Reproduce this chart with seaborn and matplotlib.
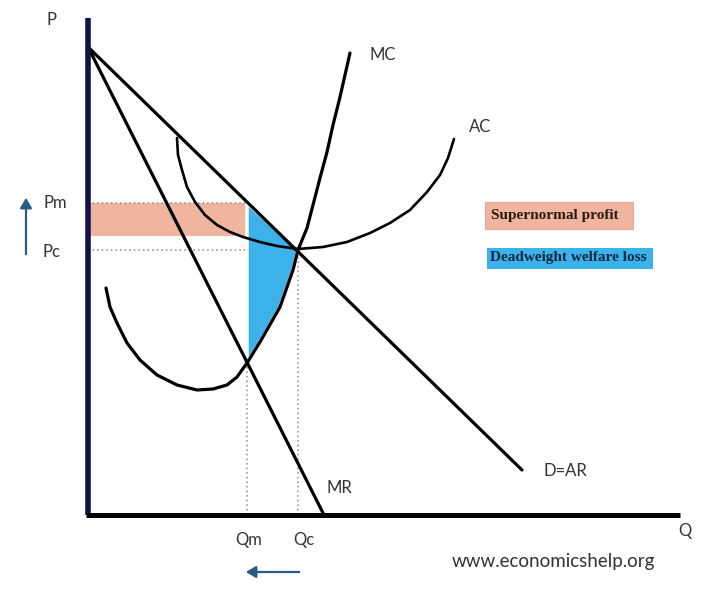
import numpy as np
import pandas as pd
import seaborn as sns
import matplotlib
matplotlib.use("Agg")
import matplotlib.pyplot as plt
from matplotlib.patches import Rectangle, Polygon, FancyArrowPatch

# ---- data (Q, P units) ----
d_q = [0, 434]
d_p = [468, 45]
mr_q = [0, 235]
mr_p = [468, 2]
mc_q = [18, 22, 29, 39, 52, 69, 89, 109, 125, 139, 149, 159, 172, 192, 205, 210, 219, 225, 232, 239, 245, 252, 262]
mc_p = [227, 208, 192, 172, 155, 140, 130, 125, 126, 130, 138, 152, 173, 208, 245, 265, 287, 310, 337, 363, 390, 418, 462]
ac_q = [89, 90, 94, 99, 107, 117, 129, 142, 155, 172, 189, 210, 235, 259, 282, 302, 322, 339, 352, 360, 366]
ac_p = [377, 360, 345, 328, 313, 300, 290, 283, 278, 273, 269, 266, 268, 273, 282, 292, 305, 323, 340, 357, 376]
qm, qc = 159, 210
pm, pc = 312, 265
ac_at_qm = 279
dwl_q = [159, 210, 205, 192, 172, 159]
dwl_p = [312, 265, 245, 208, 173, 152]
q_axis_max, p_axis_max = 592, 497

curve_labels = ["MC", "AC", "MR", "D=AR"]
curve_label_pos = [(295, 460), (392, 388), (251, 27), (477, 44)]
legend_texts = ["Supernormal profit", "Deadweight welfare loss"]
source_text = "www.economicshelp.org"

salmon = "#efb59f"
blue = "#3db1e9"
arrow_col = "#2a5a86"
text_col = "#333333"

sns.set_theme(style="white")
plt.rcParams['font.family'] = ['Lato', 'DejaVu Sans']

fig = plt.figure(figsize=(7.2, 5.97), dpi=100)
ax = fig.add_axes([0, 0, 1, 1])
ax.set_xlim(-88, 632)
ax.set_ylim(-82, 515)
ax.axis("off")

# supernormal profit rectangle
ax.add_patch(Rectangle((0, ac_at_qm), qm, pm - ac_at_qm, facecolor=salmon, edgecolor="none", zorder=1))
# deadweight loss
ax.add_patch(Polygon(list(zip(dwl_q, dwl_p)), closed=True, facecolor=blue, edgecolor="white", lw=2.5, zorder=2))

# dotted guide lines
dot = dict(color="#8a8a8a", ls=(0, (1, 2)), lw=1.1, zorder=1.5)
ax.plot([0, qm], [pm, pm], **dot)
ax.plot([0, qc], [pc, pc], **dot)
ax.plot([qm, qm], [0, pm], **dot)
ax.plot([qc, qc], [0, pc], **dot)

# curves
line_kw = dict(color="black", sort=False, zorder=3, solid_joinstyle="round", solid_capstyle="round")
sns.lineplot(x=d_q, y=d_p, ax=ax, lw=2.3, **line_kw)
sns.lineplot(x=mr_q, y=mr_p, ax=ax, lw=2.3, **line_kw)
sns.lineplot(x=mc_q, y=mc_p, ax=ax, lw=2.3, **line_kw)
sns.lineplot(x=ac_q, y=ac_p, ax=ax, lw=1.9, **line_kw)

# axes
ax.plot([0, 0], [0, p_axis_max], color="#12124a", lw=4, solid_capstyle="butt", zorder=4)
ax.plot([-2, q_axis_max], [0, 0], color="black", lw=3.6, solid_capstyle="butt", zorder=4)

# labels
fs = 12
ax.text(-36, p_axis_max - 2, "P", fontsize=fs, color=text_col, ha="center", va="center")
ax.text(597, -16, "Q", fontsize=fs, color=text_col, ha="center", va="center")
ax.text(-33, pm, "Pm", fontsize=fs, color=text_col, ha="center", va="center")
ax.text(-36, pc - 2, "Pc", fontsize=fs, color=text_col, ha="center", va="center")
ax.text(qm + 2, -25, "Qm", fontsize=fs, color=text_col, ha="center", va="center")
ax.text(qc + 6, -25, "Qc", fontsize=fs, color=text_col, ha="center", va="center")
for lab, (x, y) in zip(curve_labels, curve_label_pos):
    ax.text(x, y, lab, fontsize=fs, color=text_col, ha="center", va="center")

# arrows
ax.add_patch(FancyArrowPatch((-62, 258), (-62, 320), arrowstyle="-|>,head_length=6,head_width=3.5",
                             color=arrow_col, lw=1.6, zorder=5))
ax.add_patch(FancyArrowPatch((214, -57), (155, -57), arrowstyle="-|>,head_length=6,head_width=3.5",
                             color=arrow_col, lw=1.6, zorder=5))

# legend boxes
ax.add_patch(Rectangle((397, 286), 148, 27, facecolor=salmon, edgecolor="#e0a895", lw=0.8, zorder=3))
ax.text(403, 300, legend_texts[0], fontsize=11, fontweight="bold", family=["Liberation Serif"],
        color="#2a1a14", ha="left", va="center", zorder=4)
ax.add_patch(Rectangle((399, 246), 166, 21, facecolor=blue, edgecolor="none", zorder=3))
ax.text(402, 257, legend_texts[1], fontsize=11, fontweight="bold", family=["Liberation Serif"],
        color="#0b2942", ha="left", va="center", zorder=4)

ax.text(465, -47, source_text, fontsize=13.5, color=text_col, ha="center", va="center")

fig.savefig("out.png", dpi=100)
